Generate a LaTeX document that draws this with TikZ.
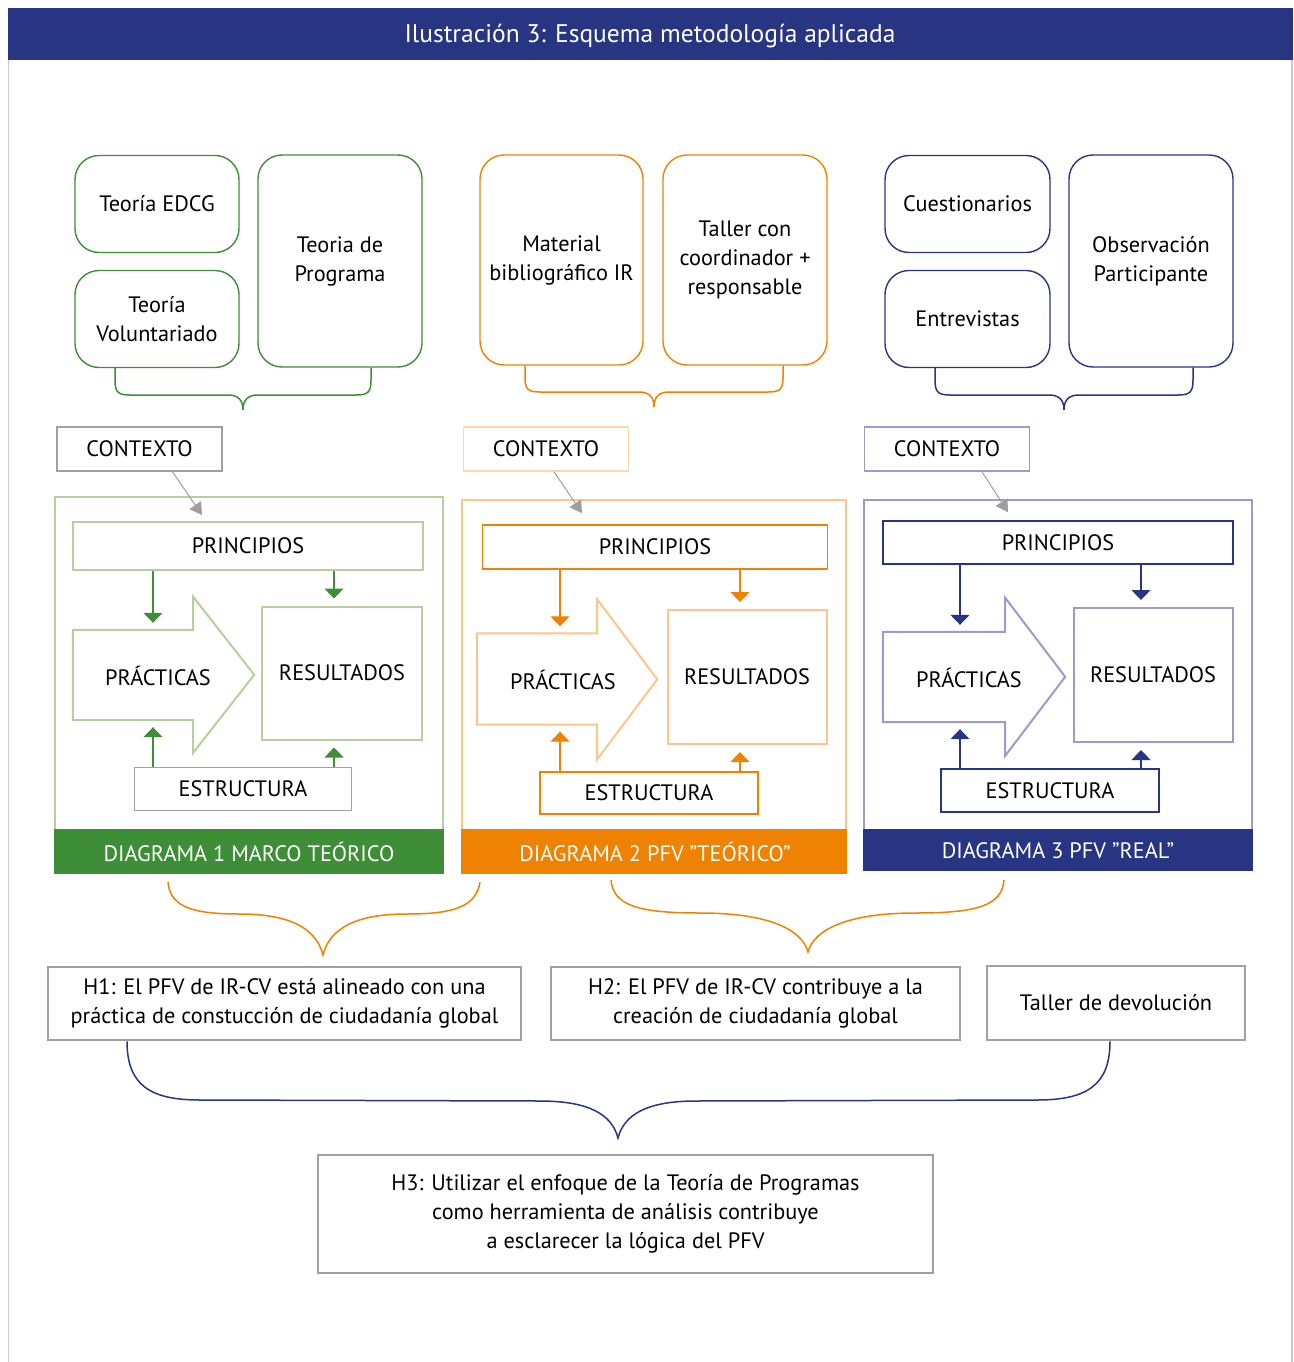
\documentclass[tikz,border=0pt]{standalone}
\usepackage{fontspec}
\setmainfont{PT Sans}
\usetikzlibrary{arrows.meta}

\definecolor{navy}{HTML}{283583}
\definecolor{dgreen}{HTML}{3E8E37}
\definecolor{lgreen}{HTML}{B5CF9E}
\definecolor{dorange}{HTML}{EF8200}
\definecolor{lorange}{HTML}{FBC68C}
\definecolor{lnavy}{HTML}{9D9BCC}
\definecolor{edge}{HTML}{C8C7E3}
\definecolor{hgray}{HTML}{A0A0A0}

\begin{document}
\begin{tikzpicture}[x=1pt,y=-1pt,
    every node/.style={font=\fontsize{22.3}{29}\selectfont, align=center, inner sep=0pt},
    rbox/.style={draw=#1, line width=1.4pt, rounded corners=24pt},
    sbox/.style={draw=#1, line width=1.6pt},
    hbox/.style={draw=hgray, line width=2.5pt},
    pin/.style={draw=#1, line width=1.3pt, shorten >=7pt, -{Triangle[width=19pt,length=10pt,fill=#1]}},
    carr/.style={draw=gray!75, line width=1pt, -{Triangle[width=14pt,length=12pt]}},
    brc/.style={draw=#1, line width=1.5pt}]
  \useasboundingbox (0,0) rectangle (1293,1362);
  % \draw[help lines,step=50pt] (0,0) grid (1293,1362);

  \fill[navy] (8,8) rectangle (1293,60);
  \draw (650,36) node[text=white, font=\fontsize{25.5}{30}\selectfont] (title) {Ilustración 3: Esquema metodología aplicada};
  \draw[edge, line width=1.2pt] (8.5,60) -- (8.5,1362);
  \draw[edge, line width=1.2pt] (1292,60) -- (1292,1362);

  % fuentes
  \draw (157,204) node[rbox=dgreen, minimum width=164, minimum height=97] (tedcg) {Teoría EDCG};
  \draw (157,319) node[rbox=dgreen, minimum width=164, minimum height=97] (tvol) {Teoría\\Voluntariado};
  \draw (340,261) node[rbox=dgreen, minimum width=164, minimum height=212] (tprog) {Teoria de\\Programa};
  \draw (561.5,260) node[rbox=dorange, minimum width=163, minimum height=210] (mat) {Material\\bibliográfico IR};
  \draw (745,260) node[rbox=dorange, minimum width=164, minimum height=210] (taller) {Taller con\\coordinador +\\responsable};
  \draw (967.5,204) node[rbox=navy, minimum width=165, minimum height=97] (cuest) {Cuestionarios};
  \draw (967.5,319) node[rbox=navy, minimum width=165, minimum height=97] (entr) {Entrevistas};
  \draw (1151,261) node[rbox=navy, minimum width=164, minimum height=212] (obs) {Observación\\Participante};

  \draw[brc=dgreen] (tvol.south -| 115,0) -- (115,380) .. controls (115,392) and (118,395) .. (130,395) -- (228,395)
    .. controls (238,395) and (243,400) .. (243,410) .. controls (243,400) and (248,395) .. (258,395) -- (356,395)
    .. controls (368,395) and (371,392) .. (371,380) -- (tprog.south -| 371,0);
  \draw[brc=dorange] (mat.south -| 525,0) -- (525,378) .. controls (525,389) and (528,392) .. (540,392) -- (639,392)
    .. controls (649,392) and (654,397) .. (654,407) .. controls (654,397) and (659,392) .. (669,392) -- (768,392)
    .. controls (780,392) and (783,389) .. (783,378) -- (taller.south -| 783,0);
  \draw[brc=navy] (entr.south -| 935,0) -- (935,380) .. controls (935,392) and (938,395) .. (950,395) -- (1049,395)
    .. controls (1059,395) and (1064,400) .. (1064,410) .. controls (1064,400) and (1069,395) .. (1079,395) -- (1178,395)
    .. controls (1190,395) and (1193,392) .. (1193,380) -- (obs.south -| 1193,0);

  % diagrama 1
  \draw[sbox=lgreen, line width=2pt] (55,497) rectangle (443,873);
  \fill[dgreen] (54,829) rectangle (444,874);
  \draw (249,852) node[text=white] (dg1) {DIAGRAMA 1 MARCO TEÓRICO};
  \draw (139.5,449) node[sbox=hgray, minimum width=165, minimum height=44] (ctx1) {CONTEXTO};
  \draw (248,546) node[sbox=lgreen, line width=2pt, minimum width=350, minimum height=48] (prin1) {PRINCIPIOS};
  \draw (133,675) node[minimum width=120, minimum height=90] (prac1) {};
  \draw[sbox=lgreen, line width=2pt] (prac1.north west) -- (prac1.north east) -- ++(0,-33) -- ++(61,78)
    -- ++(-61,78) -- (prac1.south east) -- (prac1.south west) -- cycle;
  \draw (158,676) node (pt1) {PRÁCTICAS};
  \draw (342,673) node[sbox=lgreen, line width=2pt, minimum width=160, minimum height=133] (res1) {RESULTADOS};
  \draw (243,789) node[sbox=hgray, minimum width=217, minimum height=43] (est1) {ESTRUCTURA};
  \draw[carr] ([xshift=33pt]ctx1.south) -- ([xshift=-46pt,yshift=6pt]prin1.north);
  \draw[pin=dgreen] (prin1.south -| 153,0) -- (prac1.north -| 153,0);
  \draw[pin=dgreen] (prin1.south -| 334,0) -- (res1.north -| 334,0);
  \draw[pin=dgreen] (est1.north -| 153,0) -- (prac1.south -| 153,0);
  \draw[pin=dgreen] (est1.north -| 334,0) -- (res1.south -| 334,0);

  % diagrama 2
  \begin{scope}[xshift=406pt, yshift=-2pt]
    \draw[sbox=lorange, line width=2pt] (56,498) rectangle (440,871);
    \fill[dorange] (55,827) rectangle (441,872);
    \draw (249,850) node[text=white] (dg2) {DIAGRAMA 2 PFV "TEÓRICO"};
    \draw[yshift=2pt] (140,449) node[sbox=lorange!70, minimum width=165, minimum height=44] (ctx2) {CONTEXTO};
    \draw (249,545) node[sbox=dorange, minimum width=345, minimum height=44] (prin2) {PRINCIPIOS};
    \draw (131,677) node[minimum width=120, minimum height=91] (prac2) {};
    \draw[sbox=lorange, line width=2pt] (prac2.north west) -- (prac2.north east) -- ++(0,-34) -- ++(60,80)
      -- ++(-60,80) -- (prac2.south east) -- (prac2.south west) -- cycle;
    \draw (157,678) node (pt2) {PRÁCTICAS};
    \draw (341,675) node[sbox=lorange, line width=2pt, minimum width=159, minimum height=134] (res2) {RESULTADOS};
    \draw (243,791) node[sbox=dorange, minimum width=218, minimum height=42] (est2) {ESTRUCTURA};
    \draw[carr] ([xshift=8pt]ctx2.south) -- ([xshift=-73pt,yshift=11pt]prin2.north);
    \draw[pin=dorange] (prin2.south -| 154,0) -- (prac2.north -| 154,0);
    \draw[pin=dorange] (prin2.south -| 334,0) -- (res2.north -| 334,0);
    \draw[pin=dorange] (est2.north -| 154,0) -- (prac2.south -| 154,0);
    \draw[pin=dorange] (est2.north -| 334,0) -- (res2.south -| 334,0);
  \end{scope}

  % diagrama 3
  \begin{scope}[xshift=809pt, yshift=-2pt]
    \draw[sbox=lnavy, line width=2pt] (55,498) rectangle (443,868);
    \fill[navy] (54,827) rectangle (444,869);
    \draw (249,849) node[text=white] (dg3) {DIAGRAMA 3 PFV "REAL"};
    \draw[yshift=2pt] (138,449) node[sbox=lnavy, minimum width=165, minimum height=44] (ctx3) {CONTEXTO};
    \draw (249,540.5) node[sbox=navy, minimum width=350, minimum height=43] (prin3) {PRINCIPIOS};
    \draw (135,675) node[minimum width=122, minimum height=90] (prac3) {};
    \draw[sbox=lnavy, line width=2pt] (prac3.north west) -- (prac3.north east) -- ++(0,-34) -- ++(60,79)
      -- ++(-60,79) -- (prac3.south east) -- (prac3.south west) -- cycle;
    \draw (160,676) node (pt3) {PRÁCTICAS};
    \draw (344,673) node[sbox=lnavy, line width=2pt, minimum width=159, minimum height=134] (res3) {RESULTADOS};
    \draw (241,788.5) node[sbox=navy, minimum width=218, minimum height=43] (est3) {ESTRUCTURA};
    \draw[carr] ([xshift=35pt]ctx3.south) -- ([xshift=-50pt,yshift=8pt]prin3.north);
    \draw[pin=navy] (prin3.south -| 151,0) -- (prac3.north -| 151,0);
    \draw[pin=navy] (prin3.south -| 332,0) -- (res3.north -| 332,0);
    \draw[pin=navy] (est3.north -| 151,0) -- (prac3.south -| 151,0);
    \draw[pin=navy] (est3.north -| 332,0) -- (res3.south -| 332,0);
  \end{scope}

  % hipotesis
  \draw (284.5,1003.5) node[hbox, minimum width=473, minimum height=73] (h1) {H1: El PFV de IR-CV está alineado con una\\práctica de constucción de ciudadanía global};
  \draw (755.5,1003.5) node[hbox, minimum width=409, minimum height=73] (h2) {H2: El PFV de IR-CV contribuye a la\\creación de ciudadanía global};
  \draw (1116,1003) node[hbox, minimum width=258, minimum height=74] (dev) {Taller de devolución};
  \draw (625.5,1214) node[hbox, minimum width=615, minimum height=118] (h3) {H3: Utilizar el enfoque de la Teoría de Programas\\como herramienta de análisis contribuye\\a esclarecer la lógica del PFV};

  \draw[brc=dorange] (168,882) .. controls (170,908) and (195,914) .. (240,914) .. controls (300,914) and (318,935) .. (323,955)
    .. controls (328,935) and (346,914) .. (406,914) .. controls (451,914) and (476,908) .. (480,882);
  \draw[brc=dorange] (611,880) .. controls (613,906) and (640,913) .. (700,913) .. controls (770,913) and (802,930) .. (808,952)
    .. controls (814,930) and (846,913) .. (916,913) .. controls (976,913) and (1002,906) .. (1004,880);
  \draw[brc=navy] (h1.south -| 127,0) .. controls (127,1085) and (150,1100) .. (200,1100) -- (540,1101)
    .. controls (590,1101) and (612,1115) .. (618,1138) .. controls (624,1115) and (646,1101) .. (696,1101)
    -- (1037,1100) .. controls (1087,1100) and (1110,1085) .. (dev.south -| 1110,0);
\end{tikzpicture}
\end{document}
